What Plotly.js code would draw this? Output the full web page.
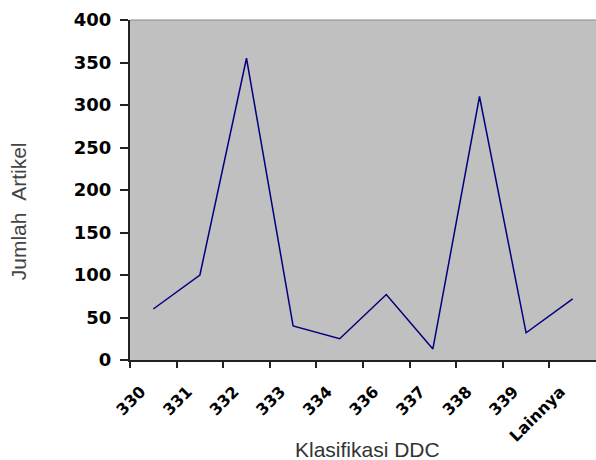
<!DOCTYPE html>
<html>
<head>
<meta charset="utf-8">
<script src="https://cdn.plot.ly/plotly-3.0.1.min.js"></script>
<style>html,body{margin:0;padding:0;background:#fff;}#chart{width:596px;height:460px;}</style>
</head>
<body>
<div id="chart"></div>
<script>
var categories = ["330", "331", "332", "333", "334", "336", "337", "338", "339", "Lainnya"];
var jumlahArtikel = [60, 100, 355, 40, 25, 77, 13, 310, 32, 72];
var yTicks = [0, 50, 100, 150, 200, 250, 300, 350, 400];

var xPos = categories.map(function (c, i) { return i + 0.5; });
var tickPos = categories.map(function (c, i) { return i; });

var trace = {
  x: xPos,
  y: jumlahArtikel,
  type: 'scatter',
  mode: 'lines',
  line: {color: '#000080', width: 1.5},
  hoverinfo: 'skip'
};

var layout = {
  width: 596,
  height: 460,
  margin: {l: 130, r: 0, t: 20, b: 100},
  paper_bgcolor: '#ffffff',
  plot_bgcolor: '#c0c0c0',
  showlegend: false,
  xaxis: {
    range: [0, categories.length],
    tickmode: 'array',
    tickvals: tickPos,
    ticktext: categories,
    tickangle: -45,
    ticks: 'outside',
    ticklen: 6,
    tickwidth: 2,
    tickcolor: '#222',
    ticklabelshift: 11,
    ticklabelstandoff: 8,
    showline: true,
    linecolor: '#222',
    linewidth: 2,
    showgrid: false,
    zeroline: false,
    fixedrange: true,
    tickfont: {family: 'DejaVu Sans', size: 16, color: '#000', weight: 'bold'}
  },
  yaxis: {
    range: [0, 400],
    tickmode: 'array',
    tickvals: yTicks,
    ticktext: yTicks.map(String),
    ticks: 'outside',
    ticklen: 8,
    tickwidth: 2,
    tickcolor: '#222',
    showline: true,
    linecolor: '#222',
    linewidth: 2,
    showgrid: false,
    zeroline: false,
    fixedrange: true,
    ticklabelstandoff: 5,
    tickfont: {family: 'DejaVu Sans', size: 18, color: '#000', weight: 'bold'}
  },
  shapes: [{
    type: 'line', xref: 'paper', yref: 'paper', x0: 0, x1: 1, y0: 1, y1: 1,
    line: {color: '#888', width: 1}
  }],
  annotations: [
    {
      text: 'Klasifikasi DDC', xref: 'paper', yref: 'paper', x: 0.51, y: -0.262,
      xanchor: 'center', yanchor: 'middle', showarrow: false,
      font: {family: 'Liberation Sans', size: 21, color: '#333'}
    },
    {
      text: 'Jumlah&nbsp;&nbsp;Artikel', xref: 'paper', yref: 'paper', x: -0.24, y: 0.438,
      xanchor: 'center', yanchor: 'middle', showarrow: false, textangle: -90,
      font: {family: 'Liberation Sans', size: 21, color: '#444'}
    }
  ]
};

Plotly.newPlot('chart', [trace], layout, {displayModeBar: false, staticPlot: true});
</script>
</body>
</html>
